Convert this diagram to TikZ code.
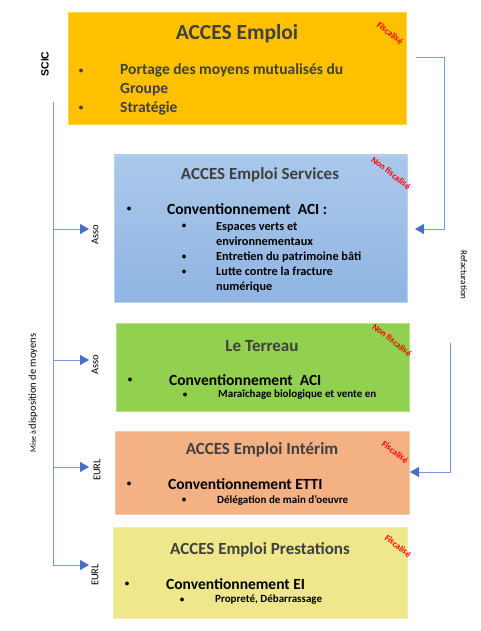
\documentclass[tikz,border=0pt]{standalone}
\usepackage{fontspec}
\setmainfont{Carlito}
\newfontfamily\arialfont{Liberation Sans}
\usetikzlibrary{arrows.meta,positioning}
\definecolor{linkblue}{HTML}{7A9BD8}
\definecolor{tipblue}{HTML}{4472C4}
\definecolor{titlegray}{HTML}{404040}
\definecolor{boxorange}{HTML}{FFC000}
\definecolor{boxblue}{HTML}{9BBFE6}
\definecolor{boxbluetop}{HTML}{AAC8EA}
\definecolor{boxbluebot}{HTML}{90B5E3}
\definecolor{boxgreen}{HTML}{92D050}
\definecolor{boxsalmon}{HTML}{F4B183}
\definecolor{boxyellow}{HTML}{EEE78C}
\tikzset{
  entity/.style={draw=#1!70!white, fill=#1, line width=0.8pt},
  title/.style={font=\bfseries\fontsize{17}{19}\selectfont, text=titlegray},
  item/.style={anchor=west, font=\bfseries\fontsize{15.5}{19}\selectfont, inner sep=0pt},
  subitem/.style={anchor=west, font=\bfseries\fontsize{12.3}{15}\selectfont, inner sep=0pt},
  dot/.style={font=\bfseries\fontsize{9}{10}\selectfont, inner sep=0pt},
  tax/.style={font=\bfseries\fontsize{9}{10}\selectfont, text=red, rotate=-38, inner sep=0pt},
  side/.style={font=\fontsize{10.5}{12}\selectfont, rotate=90, inner sep=0pt},
  link/.style={draw=linkblue, line width=0.9pt},
  arr/.style={link, -{Triangle[length=9pt,width=10pt,color=tipblue]}}
}
\begin{document}
\begin{tikzpicture}[x=1pt,y=-1pt]
  \useasboundingbox (0,0) rectangle (481,631);

  % boxes
  \draw[entity=boxorange] (68,12) rectangle (406,124);
  \draw[entity=boxblue, top color=boxbluetop, bottom color=boxbluebot] (114,155) rectangle (407,302);
  \draw[entity=boxgreen] (116,323) rectangle (409,411);
  \draw[entity=boxsalmon] (115,431) rectangle (409,514);
  \draw[entity=boxyellow] (113,527) rectangle (407,618);

  % ACCES Emploi
  \node[title, font=\bfseries\fontsize{21.5}{24}\selectfont] (emploi) at (237,34) {ACCES Emploi};
  \node[tax] (taxA) at (390,33) {Fiscalisé};
  \node[dot, text=titlegray] at (81,71) {•};
  \node[item, text=titlegray, align=left] (port) at (120,80) {Portage des moyens mutualisés du\\Groupe};
  \node[dot, text=titlegray] at (81,108) {•};
  \node[item, text=titlegray] (strat) at (120,108) {Stratégie};

  % ACCES Emploi Services
  \node[title] (services) at (260,175) {ACCES Emploi Services};
  \node[tax] (taxB) at (391,173) {Non fiscalisé};
  \node[dot] at (129,209) {•};
  \node[item] (aci) at (167,209) {Conventionnement\ \ ACI :};
  \node[dot] at (184,226) {•};
  \node[subitem, align=left] (verts) at (216,234) {Espaces verts et\\environnementaux};
  \node[dot] at (184,257) {•};
  \node[subitem] (batiment) at (216,257) {Entretien du patrimoine bâti};
  \node[dot] at (184,272) {•};
  \node[subitem, align=left] (fracture) at (216,280) {Lutte contre la fracture\\numérique};

  % Le Terreau
  \node[title] (terreau) at (262,346) {Le Terreau};
  \node[tax] (taxC) at (392,340) {Non fiscalisé};
  \node[dot] at (130,380) {•};
  \node[item] (aciT) at (169,380) {Conventionnement\ \ ACI};
  \node[dot] at (185,395) {•};
  \node[subitem, font=\bfseries\fontsize{11}{13}\selectfont] (maraichage) at (218,395) {Maraîchage biologique et vente en};

  % ACCES Emploi Interim
  \node[title] (interim) at (262,450) {ACCES Emploi Intérim};
  \node[tax] (taxD) at (395,452) {Fiscalisé};
  \node[dot] at (129,484) {•};
  \node[item] (etti) at (168,484) {Conventionnement ETTI};
  \node[dot] at (184,500) {•};
  \node[subitem, font=\bfseries\fontsize{11}{13}\selectfont] (delegation) at (217,500) {Délégation de main d’oeuvre};

  % ACCES Emploi Prestations
  \node[title] (prestations) at (260,550) {ACCES Emploi Prestations};
  \node[tax] (taxE) at (398,546) {Fiscalisé};
  \node[dot] at (127,584) {•};
  \node[item] (ei) at (166,584) {Conventionnement EI};
  \node[dot] at (182,600) {•};
  \node[subitem, font=\bfseries\fontsize{11}{13}\selectfont] (proprete) at (215,600) {Propreté, Débarrassage};

  % side labels
  \node[side, font=\bfseries\arialfont\fontsize{10.5}{12}\selectfont] (scic) at (45,64) {SCIC};
  \node[side] (mise) at (33,393) {{\fontsize{8}{10}\selectfont Mise à }disposition de moyens};
  \node[side] (assoA) at (95,235) {Asso};
  \node[side] (assoB) at (95,365) {Asso};
  \node[side] (eurlA) at (97,470) {EURL};
  \node[side] (eurlB) at (95,575) {EURL};
  \node[side, font=\fontsize{9}{10}\selectfont, rotate=180] (refact) at (464,275) {Refacturation};

  % connectors
  \coordinate (top) at (53,102);
  \coordinate (tipA) at (89,229);
  \coordinate (tipB) at (89,360);
  \coordinate (tipC) at (89,467);
  \coordinate (tipD) at (89,565);
  \draw[arr] (top) |- (tipA);
  \draw[arr] (top) |- (tipB);
  \draw[arr] (top) |- (tipC);
  \draw[arr] (top) |- (tipD);

  \coordinate (refA) at (416,57);
  \coordinate (refB) at (450,343);
  \draw[arr] (refA) -- (444,57) |- (415,229);
  \draw[arr] (refB) |- (410,472);
\end{tikzpicture}
\end{document}
